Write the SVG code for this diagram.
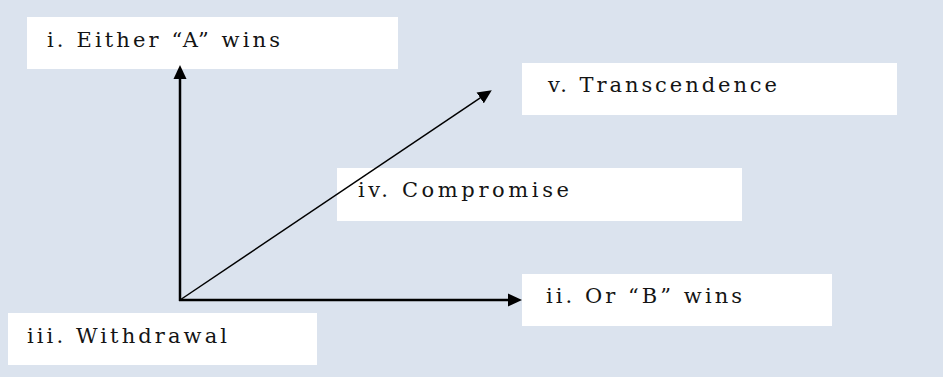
<svg xmlns="http://www.w3.org/2000/svg" width="943" height="377" viewBox="0 0 943 377">
  <style>
    .box { fill: #ffffff; }
    .lbl { font-family: 'DejaVu Serif', 'Liberation Serif', serif; font-size: 21px; fill: #141414; }
    .axis { stroke: #000000; stroke-width: 2.5; fill: none; }
    .diag { stroke: #000000; stroke-width: 1.5; fill: none; }
  </style>
  <defs>
    <marker id="arrow" markerUnits="userSpaceOnUse" markerWidth="14" markerHeight="14" refX="1" refY="7" orient="auto" viewBox="0 0 14 14">
      <path d="M0,0.5 L14,7 L0,13.5 z" fill="#000000"/>
    </marker>
  </defs>
  <rect x="0" y="0" width="943" height="377" fill="#dbe3ee"/>

  <g id="node-i">
    <rect class="box" x="27" y="17" width="371" height="52"/>
    <text class="lbl" x="47" y="47" textLength="233" lengthAdjust="spacing">i. Either “A” wins</text>
  </g>
  <g id="node-v">
    <rect class="box" x="522" y="63" width="375" height="52"/>
    <text class="lbl" x="548" y="92" textLength="229" lengthAdjust="spacing">v. Transcendence</text>
  </g>
  <g id="node-iv">
    <rect class="box" x="337" y="168" width="405" height="53"/>
    <text class="lbl" x="358" y="197" textLength="211" lengthAdjust="spacing">iv. Compromise</text>
  </g>
  <g id="node-ii">
    <rect class="box" x="522" y="274" width="310" height="52"/>
    <text class="lbl" x="546" y="303" textLength="196" lengthAdjust="spacing">ii. Or “B” wins</text>
  </g>
  <g id="node-iii">
    <rect class="box" x="8" y="313" width="309" height="52"/>
    <text class="lbl" x="27" y="343" textLength="200" lengthAdjust="spacing">iii.  Withdrawal</text>
  </g>

  <g id="connectors">
    <line class="axis" x1="180" y1="301" x2="180" y2="78" marker-end="url(#arrow)"/>
    <line class="axis" x1="179" y1="300" x2="509" y2="300" marker-end="url(#arrow)"/>
    <line class="diag" x1="180" y1="300" x2="481" y2="97.4" marker-end="url(#arrow)"/>
  </g>
</svg>
